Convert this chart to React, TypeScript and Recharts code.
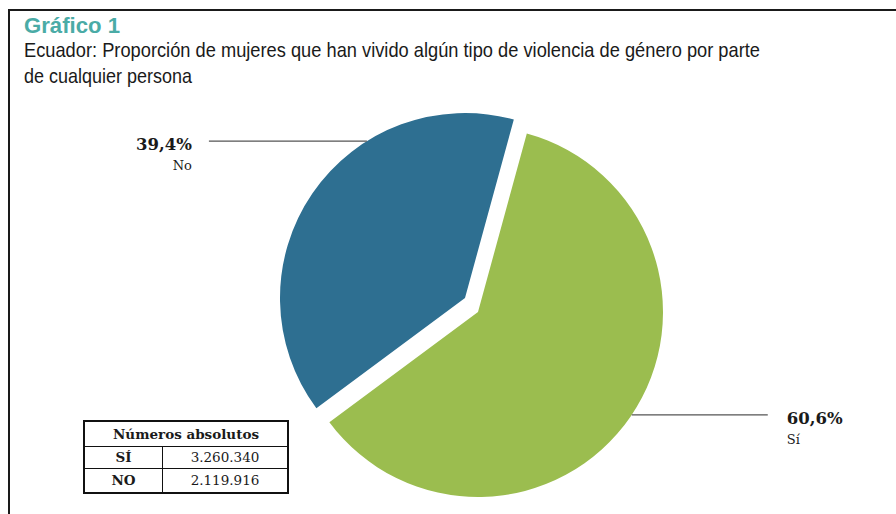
import React from "react";
import { PieChart, Pie, Cell } from "recharts";

// Datos del gráfico
const CATEGORIES = ["Sí", "No"];
const PERCENTAGES = [60.6, 39.4];
const ABSOLUTE_ROWS = ["SÍ", "NO"];
const ABSOLUTE_VALUES = [3260340, 2119916];

const COLORS = ["#9bbd4f", "#2e6f91"];
const CENTERS = [
  { cx: 478, cy: 312 },
  { cx: 465, cy: 298 },
];
// label anchor relative to the slice mid angle, and horizontal leader length
const LABEL_SHIFT = [0.6, -23.6];
const LEADER_LEN = [136, 158];

const RADIAN = Math.PI / 180;
const SERIF = "'DejaVu Serif', Georgia, serif";
const SANS = "'Liberation Sans', Arial, Helvetica, sans-serif";

const fmtPct = (v: number) => v.toFixed(1).replace(".", ",") + "%";
const fmtAbs = (v: number) =>
  String(v).replace(/\B(?=(\d{3})+(?!\d))/g, ".");

const chartData = CATEGORIES.map((name, i) => ({
  name,
  value: PERCENTAGES[i],
}));

function makeLabel(visible: number) {
  return (props: any) => {
    const { cx, cy, midAngle, outerRadius, index } = props;
    if (index !== visible) return null;
    const a = (midAngle + LABEL_SHIFT[index]) * RADIAN;
    const x0 = cx + outerRadius * Math.cos(a);
    const y0 = cy - outerRadius * Math.sin(a);
    const right = Math.cos(a) > 0;
    const x1 = right ? x0 + LEADER_LEN[index] : x0 - LEADER_LEN[index];
    const tx = right ? x1 + 19 : x1 - 17;
    return (
      <g>
        <line x1={x0} y1={y0} x2={x1} y2={y0} stroke="#555" strokeWidth={1.2} />
        <text
          x={tx}
          y={y0 + 9}
          textAnchor={right ? "start" : "end"}
          fontFamily={SERIF}
          fontWeight="bold"
          fontSize={16.5}
          fill="#1a1a1a"
        >
          {fmtPct(PERCENTAGES[index])}
        </text>
        <text
          x={tx}
          y={y0 + 29}
          textAnchor={right ? "start" : "end"}
          fontFamily={SERIF}
          fontSize={13}
          fill="#1a1a1a"
        >
          {CATEGORIES[index]}
        </text>
      </g>
    );
  };
}

const cellStyle: React.CSSProperties = {
  border: "1.5px solid #111",
  textAlign: "center",
  padding: 0,
  fontFamily: SERIF,
  fontSize: 13.5,
  color: "#1a1a1a",
};

export default function App() {
  return (
    <div
      style={{
        position: "absolute",
        left: 0,
        top: 0,
        width: 896,
        height: 514,
        background: "#fff",
        overflow: "hidden",
      }}
    >
      <div
        style={{
          position: "absolute",
          left: 8,
          top: 9,
          width: 900,
          height: 520,
          borderTop: "2px solid #1a1a1a",
          borderLeft: "2px solid #1a1a1a",
        }}
      />
      <svg
        width={896}
        height={100}
        style={{ position: "absolute", left: 0, top: 0 }}
      >
        <text
          x={24}
          y={33}
          fontFamily={SANS}
          fontWeight="bold"
          fontSize={21.5}
          fill="#4aaba6"
          textLength={96}
          lengthAdjust="spacingAndGlyphs"
        >
          Gráfico 1
        </text>
        <text
          x={24}
          y={57}
          fontFamily={SANS}
          fontSize={21}
          fill="#1a1a1a"
          textLength={736}
          lengthAdjust="spacingAndGlyphs"
        >
          Ecuador: Proporción de mujeres que han vivido algún tipo de violencia de género por parte
        </text>
        <text
          x={24}
          y={83}
          fontFamily={SANS}
          fontSize={21}
          fill="#1a1a1a"
          textLength={168}
          lengthAdjust="spacingAndGlyphs"
        >
          de cualquier persona
        </text>
      </svg>
      <div style={{ position: "absolute", left: 0, top: 0 }}>
        <PieChart
          width={896}
          height={514}
          margin={{ top: 0, right: 0, bottom: 0, left: 0 }}
        >
          {CENTERS.map((c, k) => (
            <Pie
              key={`pie-${k}`}
              data={chartData}
              dataKey="value"
              nameKey="name"
              cx={c.cx}
              cy={c.cy}
              outerRadius={185}
              startAngle={74.7}
              endAngle={-285.3}
              stroke="none"
              labelLine={false}
              label={makeLabel(k)}
              isAnimationActive={false}
            >
              {chartData.map((entry, i) => (
                <Cell
                  key={`cell-${k}-${i}`}
                  fill={i === k ? COLORS[i] : "transparent"}
                  stroke="none"
                />
              ))}
            </Pie>
          ))}
        </PieChart>
      </div>
      <table
        style={{
          position: "absolute",
          left: 83,
          top: 420,
          width: 206,
          height: 73,
          borderCollapse: "collapse",
          border: "2px solid #111",
        }}
      >
        <tbody>
          <tr style={{ height: 25 }}>
            <td colSpan={2} style={{ ...cellStyle, fontWeight: "bold" }}>
              Números absolutos
            </td>
          </tr>
          {ABSOLUTE_ROWS.map((r, i) => (
            <tr key={r} style={{ height: i === 0 ? 22 : 25 }}>
              <td style={{ ...cellStyle, fontWeight: "bold", width: 77 }}>{r}</td>
              <td style={cellStyle}>{fmtAbs(ABSOLUTE_VALUES[i])}</td>
            </tr>
          ))}
        </tbody>
      </table>
    </div>
  );
}
